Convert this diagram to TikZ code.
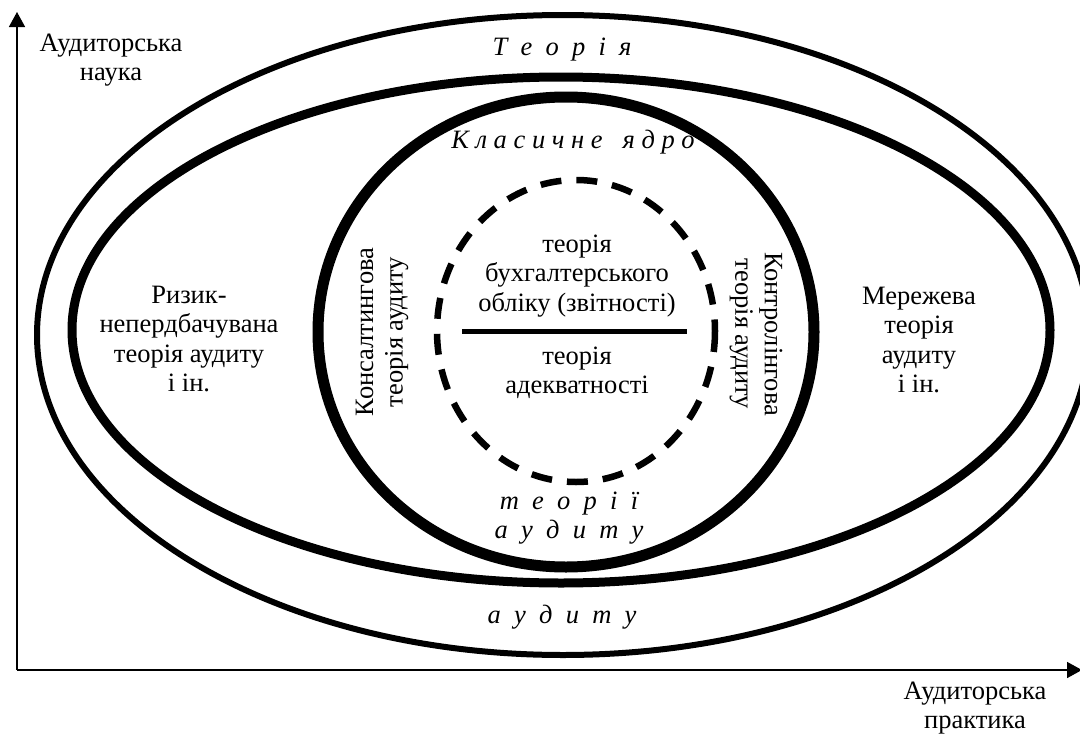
\documentclass[tikz,border=0pt]{standalone}
\usepackage{fontspec}
\setmainfont{Liberation Serif}
\usetikzlibrary{arrows.meta,positioning}
\tikzset{
    every node/.style={
        font=\fontsize{26.5}{29.5}\selectfont
    },
    lbl/.style={
        align=center,
        inner sep=0pt
    },
    sp/.style={
        font=\fontsize{26.5}{29.5}\selectfont\itshape,
        align=center,
        inner sep=0pt
    },
    ring/.style={
        draw=black,
        line width=6pt
    },
    axis/.style={
        line width=1.6pt,
        -{Triangle[width=16pt,length=15pt]}
    }
}

\begin{document}
\begin{tikzpicture}[x=1pt,y=-1pt]
		\useasboundingbox (0,0) rectangle (1080,736);
		
		\coordinate (o) at (17,670);
		\coordinate (ytop) at (17,12);
		\coordinate (xend) at (1082,670);
		\draw [axis] (o) -- (ytop);
		\draw [axis] (o) -- (xend);
		
		\node (sci) at (111,60) [lbl] {Аудиторська\\наука};
		\node (prc) at (975,708) [lbl] {Аудиторська\\практика};
		
		\draw [ring] (563,335) ellipse [x radius=526, y radius=320];
		\draw [ring, line width=9pt] (561,330) ellipse [x radius=489, y radius=253];
		\draw [ring, line width=11pt] (566,332) ellipse [x radius=248, y radius=235];
		\draw [ring, line width=6.5pt, dash pattern=on 21pt off 15pt] (576,331) ellipse [x radius=139, y radius=151];
		
		\node (th) at (562,50) [sp] {Т\ \ е\ \ о\ \ р\ \ і\ \ я};
		\node (au) at (562,617) [sp] {а\ \ у\ \ д\ \ и\ \ т\ \ у};
		\node (core) at (573,142) [sp] {К л а с и ч н е\ \ \ я д р о};
		\node (ta) at (569,518) [sp] {т\ \ е\ \ о\ \ р\ \ і\ \ ї\\а\ \ у\ \ д\ \ и\ \ т\ \ у};
		
		\node (risk) at (189,339) [lbl] {Ризик-\\непердбачувана\\теорія аудиту\\і ін.};
		\node (net) at (919,340) [lbl] {Мережева\\теорія\\аудиту\\і ін.};
		
		\node (cons) at (382,332) [lbl, rotate=90] {Консалтингова\\теорія аудиту};
		\node (ctrl) at (756,334) [lbl, rotate=-90] {Контролінгова\\теорія аудиту};
		
		\node (acc) at (577,276) [lbl] {теорія\\бухгалтерського\\обліку (звітності)};
		\node (adq) at (577,373) [lbl] {теорія\\адекватності};
		\coordinate (ll) at (462,331);
		\coordinate (lr) at (687,331);
		\draw [line width=5pt] (ll) -- (lr);
	\end{tikzpicture}
\end{document}
